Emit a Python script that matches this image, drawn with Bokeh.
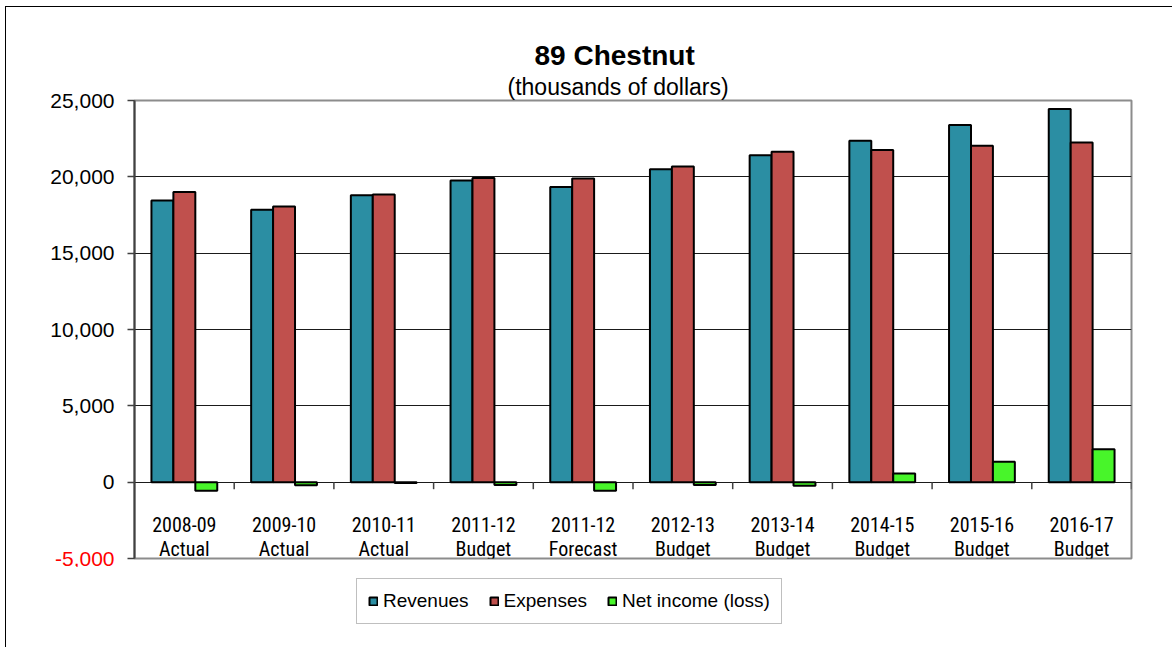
from bokeh.plotting import figure
from bokeh.layouts import column
from bokeh.models import (FactorRange, Range1d, FixedTicker, NumeralTickFormatter, LinearAxis,
                          ColumnDataSource, Legend, LegendItem, Title)
from bokeh.transform import dodge
from bokeh.embed import file_html
from bokeh.resources import INLINE

# ---- data ----
years = ["2008-09", "2009-10", "2010-11", "2011-12", "2011-12",
         "2012-13", "2013-14", "2014-15", "2015-16", "2016-17"]
kinds = ["Actual", "Actual", "Actual", "Budget", "Forecast",
         "Budget", "Budget", "Budget", "Budget", "Budget"]
revenues = [18450, 17840, 18800, 19760, 19340, 20500, 21420, 22360, 23390, 24440]
expenses = [19000, 18050, 18840, 19930, 19890, 20670, 21640, 21750, 22030, 22250]
net_income = [-560, -210, -60, -180, -560, -180, -240, 560, 1330, 2150]
y_ticks = [-5000, 0, 5000, 10000, 15000, 20000, 25000]
series_names = ["Revenues", "Expenses", "Net income (loss)"]
series_colors = ["#2b8ea3", "#c0504d", "#48f52a"]
title_text = "89 Chestnut"
subtitle_text = "(thousands of dollars)"

categories = [f"{y}\n{k}" for y, k in zip(years, kinds)]
src = ColumnDataSource(dict(cat=categories, rev=revenues, exp=expenses, net=net_income))

FONT = "Liberation Sans"
NARROW = "'Liberation Sans Narrow', 'Roboto Condensed', 'DejaVu Sans Condensed', 'Liberation Sans', sans-serif"

p = figure(x_range=FactorRange(factors=categories), y_range=Range1d(y_ticks[0], y_ticks[-1]),
           width=1166, height=560, output_backend="svg", toolbar_location=None,
           title=None, min_border_left=128, min_border_right=41,
           min_border_top=93, min_border_bottom=9,
           background_fill_color="white", border_fill_color="white")

# titles
p.add_layout(Title(text=subtitle_text, text_font=FONT, text_font_size="23px", text_color="black",
                   text_font_style="normal", align="left", offset=373, standoff=2), "above")
p.add_layout(Title(text=title_text, text_font=FONT, text_font_size="28px", text_color="black",
                   text_font_style="bold", align="left", offset=400, standoff=0), "above")

# outline
p.outline_line_color = "#8c8c8c"
p.outline_line_width = 2

# grid
p.xgrid.visible = False
p.ygrid.ticker = FixedTicker(ticks=[t for t in y_ticks if y_ticks[0] < t < y_ticks[-1]])
p.ygrid.grid_line_color = "#1a1a1a"
p.ygrid.grid_line_width = 1

# y axis (black labels)
p.yaxis.ticker = FixedTicker(ticks=y_ticks)
p.yaxis.formatter = NumeralTickFormatter(format="0,0")
p.yaxis.major_label_overrides = {y_ticks[0]: ""}
p.yaxis.major_label_text_font = FONT
p.yaxis.major_label_text_font_size = "21px"
p.yaxis.major_label_text_color = "black"
p.yaxis.axis_line_color = "#404040"
p.yaxis.axis_line_width = 2
p.yaxis.major_tick_line_color = "#404040"
p.yaxis.major_tick_line_width = 1.5
p.yaxis.major_tick_out = 7
p.yaxis.major_tick_in = 0
p.yaxis.minor_tick_line_color = None
p.yaxis.major_label_standoff = 13

# second axis only for the red negative label
red_axis = LinearAxis(ticker=FixedTicker(ticks=[y_ticks[0]]),
                      formatter=NumeralTickFormatter(format="0,0"),
                      axis_line_color=None, major_tick_line_color=None,
                      minor_tick_line_color=None, major_tick_out=0, major_tick_in=0,
                      major_label_text_color="red", major_label_text_font=FONT,
                      major_label_text_font_size="21px", major_label_standoff=-67)
p.add_layout(red_axis, "left")

# x axis fixed at zero
p.xaxis.fixed_location = 0
p.xaxis.axis_line_color = None
p.xaxis.major_tick_line_color = None
p.xaxis.minor_tick_line_color = None
p.xaxis.major_label_standoff = 25
p.xaxis.major_label_text_font = NARROW
p.xaxis.major_label_text_font_size = "20px"
p.xaxis.major_label_text_color = "black"
p.xaxis.major_label_text_line_height = 1.0

# boundary ticks between categories
bounds = list(range(1, len(categories) + 1))
p.segment(x0=bounds, y0=[0] * len(bounds), x1=bounds, y1=[-460] * len(bounds),
          line_color="#404040", line_width=1.5)

# bars
w = 0.22
r1 = p.vbar(x=dodge("cat", -w, range=p.x_range), top="rev", width=w, source=src,
            fill_color=series_colors[0], line_color="black", line_width=2)
r2 = p.vbar(x=dodge("cat", 0, range=p.x_range), top="exp", width=w, source=src,
            fill_color=series_colors[1], line_color="black", line_width=2)
r3 = p.vbar(x=dodge("cat", w, range=p.x_range), top="net", width=w, source=src,
            fill_color=series_colors[2], line_color="black", line_width=2)

# legend strip below the chart (its frame is aligned with the chart frame)
lf = figure(width=1166, height=80, output_backend="svg", toolbar_location=None,
            title=None, x_range=Range1d(0, 1), y_range=Range1d(0, 1),
            min_border=0, background_fill_color="white", border_fill_color="white")
lf.axis.visible = False
lf.grid.visible = False
lf.outline_line_color = None
# legend-key renderers: no drawable bar (NaN height), only used for the legend keys
keys = ColumnDataSource(dict(x=[0.5], top=[float("nan")]))
lr = [lf.vbar(x="x", top="top", width=0.1, source=keys, fill_color=c,
              line_color="black", line_width=2) for c in series_colors]
legend = Legend(items=[LegendItem(label=n, renderers=[r]) for n, r in zip(series_names, lr)],
                orientation="horizontal", location=(222, 23),
                label_text_font=FONT, label_text_font_size="19px", label_text_color="black",
                glyph_width=10, glyph_height=10, label_standoff=5, spacing=20,
                padding=11, margin=0, border_line_color="#7f7f7f", border_line_width=1.5,
                background_fill_color="white", background_fill_alpha=1)
lf.add_layout(legend, "center")

layout = column(p, lf, spacing=0)
layout.styles = {"margin-left": "5px", "margin-top": "6px",
                 "border-left": "1px solid black", "border-top": "1px solid black"}

open("out.html", "w").write(file_html(layout, INLINE))
